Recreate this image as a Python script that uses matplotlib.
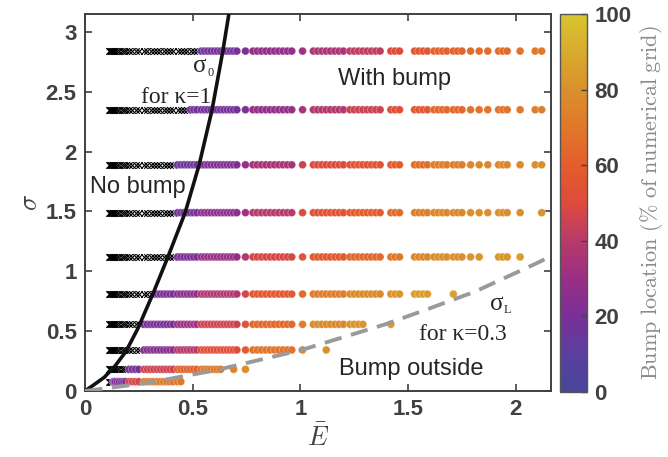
import numpy as np
import matplotlib
matplotlib.use('Agg')
import matplotlib.pyplot as plt
from matplotlib.colors import LinearSegmentedColormap, Normalize
from matplotlib.cm import ScalarMappable

plt.rcParams['mathtext.fontset'] = 'cm'

# ---------------- data ----------------
E_grid = [0.11, 0.115, 0.12, 0.125, 0.13, 0.135, 0.14, 0.15, 0.16, 0.17, 0.18, 0.19,
          0.205, 0.22, 0.235, 0.25,
          0.275, 0.29, 0.305, 0.32, 0.335, 0.35, 0.365, 0.38, 0.395, 0.41,
          0.43, 0.445, 0.46, 0.475, 0.49, 0.505, 0.52,
          0.54, 0.555, 0.57, 0.585, 0.60, 0.615, 0.63, 0.645, 0.66, 0.675, 0.69, 0.705,
          0.745,
          0.78, 0.80, 0.82, 0.84, 0.86, 0.88, 0.90, 0.92, 0.94, 0.96,
          1.01,
          1.06, 1.08, 1.10, 1.12, 1.14, 1.16, 1.18, 1.20,
          1.23, 1.25, 1.27, 1.29, 1.31, 1.33, 1.35, 1.37,
          1.42, 1.44, 1.46,
          1.53, 1.55, 1.57, 1.59,
          1.62, 1.64, 1.66, 1.68, 1.71, 1.73, 1.75,
          1.79, 1.83, 1.87, 1.92, 1.94, 1.96,
          2.02,
          2.09, 2.12]

sigma_rows = [0.078, 0.181, 0.343, 0.557, 0.81, 1.12, 1.49, 1.89, 2.35, 2.84]

# per row: (E from, E to, bump location %) ; None = no bump (cross)
row_segments = [
    [(0.10, 0.125, None), (0.126, 0.19, 20), (0.20, 0.26, 48), (0.27, 0.445, 70)],
    [(0.10, 0.195, None), (0.20, 0.26, 18), (0.27, 0.42, 46), (0.425, 0.53, 62),
     (0.54, 0.64, 70), (0.68, 0.70, 75), (0.74, 0.75, 80)],
    [(0.10, 0.26, None), (0.27, 0.42, 24), (0.425, 0.53, 40), (0.54, 0.71, 52),
     (0.74, 0.75, 60), (0.77, 0.97, 68), (1.00, 1.02, 75), (1.11, 1.13, 80)],
    [(0.10, 0.26, None), (0.27, 0.42, 20), (0.425, 0.53, 32), (0.54, 0.71, 46),
     (0.74, 0.75, 55), (0.77, 0.97, 64), (1.00, 1.02, 72), (1.05, 1.21, 77),
     (1.22, 1.30, 82), (1.41, 1.43, 85)],
    [(0.10, 0.32, None), (0.33, 0.42, 20), (0.425, 0.53, 26), (0.54, 0.71, 38),
     (0.74, 0.75, 48), (0.77, 0.97, 58), (1.00, 1.02, 66), (1.05, 1.21, 72),
     (1.22, 1.38, 78), (1.41, 1.47, 82), (1.52, 1.60, 85), (1.705, 1.715, 86)],
    [(0.10, 0.41, None), (0.425, 0.53, 20), (0.54, 0.71, 30), (0.74, 0.75, 38),
     (0.77, 0.97, 48), (1.00, 1.02, 55), (1.05, 1.21, 58), (1.22, 1.38, 64),
     (1.41, 1.47, 70), (1.52, 1.60, 76), (1.61, 1.76, 80), (1.78, 1.84, 82),
     (1.90, 1.97, 82), (2.00, 2.03, 84)],
    [(0.10, 0.42, None), (0.425, 0.53, 18), (0.54, 0.71, 26), (0.74, 0.75, 32),
     (0.77, 0.97, 40), (1.00, 1.02, 50), (1.05, 1.21, 54), (1.22, 1.38, 60),
     (1.41, 1.47, 66), (1.52, 1.60, 72), (1.61, 1.76, 76), (1.78, 1.97, 79),
     (2.00, 2.03, 80), (2.11, 2.13, 82)],
    [(0.10, 0.42, None), (0.425, 0.53, 16), (0.54, 0.71, 22), (0.74, 0.75, 28),
     (0.77, 0.97, 35), (1.00, 1.02, 45), (1.05, 1.21, 50), (1.22, 1.38, 55),
     (1.41, 1.47, 60), (1.52, 1.60, 66), (1.61, 1.76, 72), (1.78, 1.97, 76),
     (2.00, 2.03, 78), (2.08, 2.13, 80)],
    [(0.10, 0.48, None), (0.49, 0.71, 18), (0.74, 0.75, 22), (0.77, 0.97, 28),
     (1.00, 1.02, 34), (1.05, 1.21, 38), (1.22, 1.38, 45), (1.41, 1.47, 52),
     (1.52, 1.60, 58), (1.61, 1.76, 64), (1.78, 1.97, 68), (2.00, 2.03, 70),
     (2.08, 2.13, 72)],
    [(0.10, 0.53, None), (0.535, 0.71, 18), (0.74, 0.75, 22), (0.77, 0.97, 28),
     (1.00, 1.02, 32), (1.05, 1.21, 36), (1.22, 1.38, 42), (1.41, 1.47, 50),
     (1.52, 1.60, 56), (1.61, 1.76, 62), (1.78, 1.97, 66), (2.00, 2.03, 68),
     (2.08, 2.13, 70)],
]

# boundary curves
E_sigma0 = [0.0, 0.04, 0.09, 0.14, 0.19, 0.245, 0.315, 0.385, 0.465, 0.53, 0.59, 0.64, 0.668]
S_sigma0 = [0.0, 0.05, 0.115, 0.21, 0.33, 0.52, 0.81, 1.12, 1.49, 1.89, 2.35, 2.84, 3.15]
E_sigmaL = [0.0, 0.30, 0.61, 1.00, 1.39, 1.60, 1.81, 2.10, 2.16]
S_sigmaL = [0.0, 0.07, 0.175, 0.34, 0.555, 0.69, 0.83, 1.07, 1.125]

x_ticks = [0, 0.5, 1, 1.5, 2]
y_ticks = [0, 0.5, 1, 1.5, 2, 2.5, 3]
cbar_ticks = [0, 20, 40, 60, 80, 100]

cmap_pos = [0.0, 0.1, 0.2, 0.3, 0.4, 0.5, 0.6, 0.7, 0.8, 0.9, 1.0]
cmap_cols = ['#47479a', '#5b3ea0', '#7a2f97', '#9a2f85', '#b73a6a', '#df4a3c',
             '#e35d2c', '#e0782a', '#d9902c', '#d8aa2e', '#d8c530']

# ---------------- figure ----------------
dark = '#404040'
cmap = LinearSegmentedColormap.from_list('bump', list(zip(cmap_pos, cmap_cols)))
norm = Normalize(0, 100)

fig = plt.figure(figsize=(6.68, 4.57), dpi=100)
ax = fig.add_axes([0.1272, 0.1444, 0.6972, 0.825])
cax = fig.add_axes([0.838, 0.1422, 0.0412, 0.827])

cx, cy, dx, dy, dv = [], [], [], [], []
for s, segs in zip(sigma_rows, row_segments):
    for lo, hi, val in segs:
        for e in E_grid:
            if lo <= e <= hi:
                if val is None:
                    cx.append(e); cy.append(s)
                else:
                    dx.append(e); dy.append(s); dv.append(val)

ax.scatter(cx, cy, marker='x', s=22, c='black', linewidths=0.8, zorder=2)
ax.scatter(dx, dy, c=dv, cmap=cmap, norm=norm, s=32, marker='o',
           edgecolors=(1, 1, 1, 0.35), linewidths=0.6, zorder=3)

ax.plot(E_sigma0, S_sigma0, color='#111111', lw=2.6, zorder=4, solid_capstyle='butt')
ax.plot(E_sigmaL, S_sigmaL, color='#9a9a9a', lw=2.8, ls=(0, (4.5, 2.5)), zorder=4)

ax.set_xlim(0, 2.162)
ax.set_ylim(0, 3.15)
ax.set_xticks(x_ticks)
ax.set_yticks(y_ticks)
ax.set_xticklabels([f'{t:g}' for t in x_ticks])
ax.set_yticklabels([f'{t:g}' for t in y_ticks])
ax.tick_params(direction='in', top=True, right=True, length=5, width=1.2,
               colors=dark, labelsize=16, pad=6)
for lbl in ax.get_xticklabels() + ax.get_yticklabels():
    lbl.set_fontweight('bold'); lbl.set_family('Liberation Sans')
for sp in ax.spines.values():
    sp.set_color(dark); sp.set_linewidth(1.4)

ax.set_xlabel(r'$\bar{E}$', fontsize=19, color=dark, labelpad=3)
ax.set_ylabel(r'$\sigma$', fontsize=19, color=dark, labelpad=2)

sans = 'Liberation Sans'
serif = 'Liberation Serif'
tc = '#262626'
ax.text(1.436, 2.556, 'With bump', fontsize=17, family=sans, color=tc, ha='center', va='baseline')
ax.text(0.245, 1.654, 'No bump', fontsize=17, family=sans, color=tc, ha='center', va='baseline')
ax.text(1.515, 0.134, 'Bump outside', fontsize=17, family=sans, color=tc, ha='center', va='baseline')
ax.text(0.503, 2.665, 'σ', fontsize=18, family=serif, color=tc, ha='left', va='baseline')
ax.text(0.568, 2.635, '0', fontsize=9, family=serif, color=tc, ha='left', va='baseline')
ax.text(0.261, 2.406, 'for κ=1', fontsize=17, family=serif, color=tc, ha='left', va='baseline')
ax.text(1.879, 0.677, 'σ', fontsize=18, family=serif, color=tc, ha='left', va='baseline')
ax.text(1.944, 0.652, 'L', fontsize=9, family=serif, color=tc, ha='left', va='baseline')
ax.text(1.552, 0.426, 'for κ=0.3', fontsize=17, family=serif, color=tc, ha='left', va='baseline')

cb = fig.colorbar(ScalarMappable(norm=norm, cmap=cmap), cax=cax)
cb.set_ticks(cbar_ticks)
cb.set_ticklabels([str(t) for t in cbar_ticks])
cax.tick_params(direction='in', length=4, width=1.0, colors=dark, labelsize=16, pad=5)
for lbl in cax.get_yticklabels():
    lbl.set_fontweight('bold'); lbl.set_family('Liberation Sans')
cb.outline.set_edgecolor('#555555')
cb.outline.set_linewidth(1.0)
cb.set_label(r'$\mathrm{Bump\ location\ (\%\ of\ numerical\ grid)}$', fontsize=16,
             color='#8a8a8a', labelpad=5)

fig.savefig('out.png', dpi=100)
